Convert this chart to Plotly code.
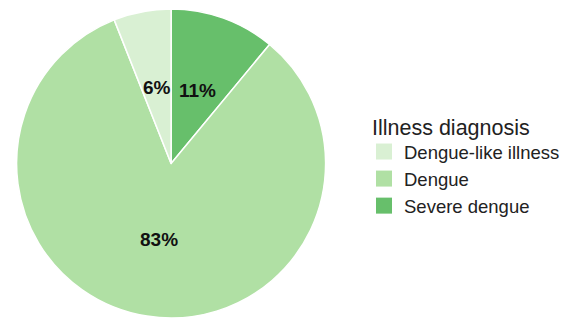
import math
import plotly.graph_objects as go

# legend / category order
labels = ["Dengue-like illness", "Dengue", "Severe dengue"]
values = [6, 83, 11]
colors = ["#d9f0d3", "#b0e0a4", "#67bf6b"]
legend_title = "Illness diagnosis"

FONT = "Liberation Sans, Arial, Helvetica, sans-serif"

W, H = 580, 320
ML, MR, MT, MB = 0, 0, 9, 2
dom_x = [0.027, 0.563]
dom_y = [0.0, 1.0]

# pie drawn clockwise from 12 o'clock in reverse order (Severe first)
pie_labels = labels[::-1]
pie_values = values[::-1]
pie_colors = colors[::-1]

fig = go.Figure()
fig.add_trace(go.Pie(
    labels=pie_labels,
    values=pie_values,
    sort=False,
    direction="clockwise",
    rotation=0,
    marker=dict(colors=pie_colors, line=dict(color="white", width=1.5)),
    textinfo="none",
    domain=dict(x=dom_x, y=dom_y),
    hoverinfo="label+percent",
    showlegend=False,
))

# percentage labels at half radius on each slice's mid-angle (computed from values)
pw = W - ML - MR
ph = H - MT - MB
cx_px = (dom_x[0] + dom_x[1]) / 2 * pw
cy_px = (dom_y[0] + dom_y[1]) / 2 * ph
R = min((dom_x[1] - dom_x[0]) * pw, (dom_y[1] - dom_y[0]) * ph) / 2
total = sum(pie_values)
cum = 0.0
for lab, v in zip(pie_labels, pie_values):
    mid = (cum + v / 2) / total
    cum += v
    ang = 2 * math.pi * mid  # clockwise from 12 o'clock
    x = cx_px + 0.5 * R * math.sin(ang)
    y = cy_px + 0.5 * R * math.cos(ang)
    fig.add_annotation(
        x=x / pw, y=y / ph, xref="paper", yref="paper",
        text=f"<b>{round(100 * v / total)}%</b>", showarrow=False,
        font=dict(family=FONT, size=19, color="#111111"),
        xanchor="center", yanchor="middle",
    )

# legend entries with square swatches
for lab, c in zip(labels, colors):
    fig.add_trace(go.Scatter(
        x=[None], y=[None], mode="markers", name=lab,
        marker=dict(symbol="square", size=16, color=c, line=dict(width=0)),
        showlegend=True,
    ))

fig.add_annotation(
    x=370 / pw, y=(ph - (128 - MT)) / ph, xref="paper", yref="paper",
    text=legend_title, showarrow=False, xanchor="left", yanchor="middle",
    font=dict(family=FONT, size=21.5, color="#222222"),
)

fig.update_layout(
    width=W, height=H,
    margin=dict(l=ML, r=MR, t=MT, b=MB),
    paper_bgcolor="white",
    plot_bgcolor="white",
    xaxis=dict(visible=False),
    yaxis=dict(visible=False),
    showlegend=True,
    legend=dict(
        font=dict(size=18.5, family=FONT, color="#222222"),
        x=364 / pw, y=(ph - (179 - MT)) / ph, yanchor="middle", xanchor="left",
        tracegroupgap=0, itemsizing="trace", bgcolor="rgba(0,0,0,0)",
    ),
)

fig.write_html("out.html")
